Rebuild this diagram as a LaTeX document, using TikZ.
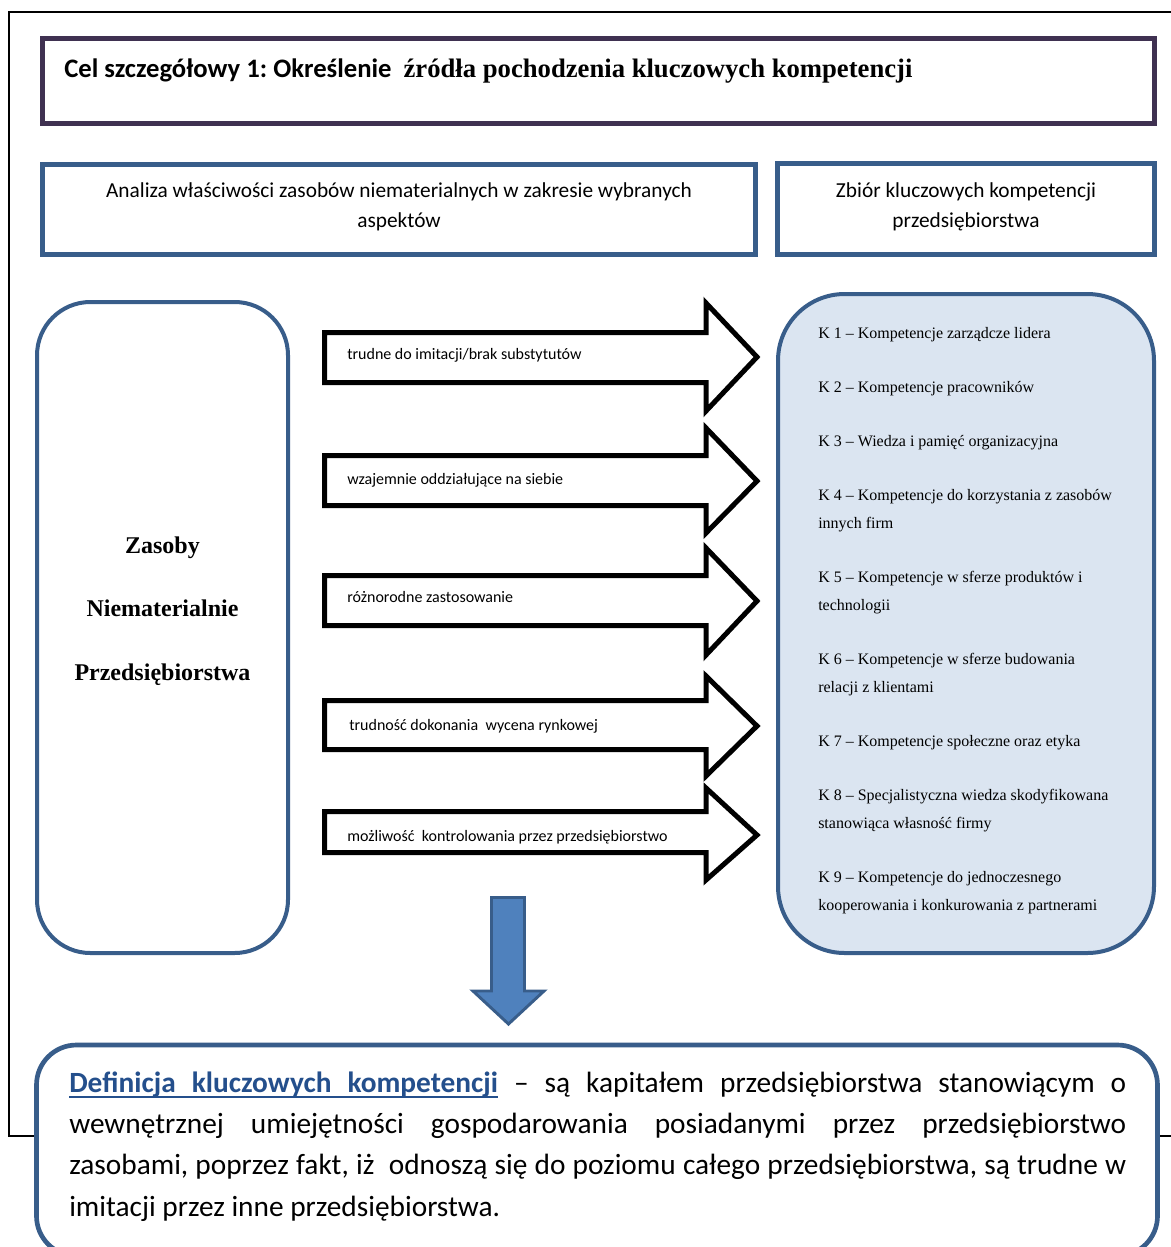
\documentclass[tikz,border=0pt]{standalone}
\usepackage{fontspec}
\setmainfont{Carlito}
\newfontfamily\tnr{Liberation Serif}
\frenchspacing
\definecolor{titleframe}{RGB}{63,49,81}
\definecolor{boxblue}{RGB}{56,93,138}
\definecolor{kfill}{RGB}{219,229,241}
\definecolor{arrowblue}{RGB}{79,129,189}
\definecolor{defblue}{RGB}{36,79,140}
\newcommand\twoline[2]{\vtop{\baselineskip=21pt\hbox{#1}\hbox{#2}}}
\newcommand\ulword[1]{\setbox0\hbox{\textcolor{defblue}{\bfseries #1}}\rlap{\textcolor{defblue}{\vrule height -3.0pt depth 4.2pt width \wd0}}\box0}
\newcommand\ulgap{\textcolor{defblue}{\leaders\hrule height -3.0pt depth 4.2pt\hskip 0.226em plus 1fil}}
\newcommand\pgap{\hskip 0.226em plus 1fil}
\newcommand\blockarr[5]{\draw[blockarrow] (324.5,#1) -- (706,#1) -- (706,#3) -- (757,#5) -- (706,#4) -- (706,#2) -- (324.5,#2) -- cycle;}
\begin{document}
\begin{tikzpicture}[x=0.75pt,y=-0.75pt,
  framebox/.style={draw=titleframe, line width=3.75pt},
  bluebox/.style={draw=boxblue, line width=3.75pt},
  roundbox/.style={draw=boxblue, line width=3pt},
  blockarrow/.style={draw=black, fill=white, line width=3.75pt, line join=miter, miter limit=10},
  downarrow/.style={draw=boxblue, fill=arrowblue, line width=2.2pt, line join=miter},
  arrowtext/.style={anchor=base west, inner sep=0pt, font=\fontsize{12}{14}\selectfont},
  headtext/.style={anchor=base, inner sep=0pt, font=\fontsize{16}{19}\selectfont},
  ktext/.style={anchor=base west, inner sep=0pt, font=\tnr\fontsize{12}{21}\selectfont},
  zastext/.style={anchor=base, inner sep=0pt, font=\tnr\bfseries\fontsize{18}{22}\selectfont}]
\clip (0,0) rectangle (1171,1247);
\fill[white] (0,0) rectangle (1171,1247);
% outer frame
\draw[black, line width=1.5pt] (1171,12) -- (9,12) -- (9,1136) -- (1171,1136);
% title box
\draw[framebox] (42.5,38.5) rectangle (1154.5,123.5);
\node[anchor=base west, inner sep=0pt, font=\fontsize{20}{24}\selectfont\bfseries] (title) at (64,77)
  {Cel szczegółowy 1: Określenie\hspace{0.45em}{\tnr źródła pochodzenia kluczowych kompetencji}};
% heading boxes
\draw[bluebox] (42.5,164.5) rectangle (755.5,254.5);
\draw[bluebox] (777.5,163.5) rectangle (1154.5,254.5);
\node[headtext] (an1) at (399,197) {Analiza właściwości zasobów niematerialnych w zakresie wybranych};
\node[headtext] (an2) at (399,227) {aspektów};
\node[headtext] (zb1) at (966,197) {Zbiór kluczowych kompetencji};
\node[headtext] (zb2) at (966,227) {przedsiębiorstwa};
% left rounded box
\draw[roundbox, fill=white, rounded corners=40pt] (37,302) rectangle (288,953);
\node[zastext] (zas1) at (162.5,553) {Zasoby};
\node[zastext] (zas2) at (162.5,616) {Niematerialnie};
\node[zastext] (zas3) at (162.5,680) {Przedsiębiorstwa};
% right rounded box
\draw[roundbox, fill=kfill, rounded corners=50pt] (778,294) rectangle (1154,953);
\node[ktext] (k1) at (818,338) {K 1 – Kompetencje zarządcze lidera};
\node[ktext] (k2) at (818,392) {K 2 – Kompetencje pracowników};
\node[ktext] (k3) at (818,446) {K 3 – Wiedza i pamięć organizacyjna};
\node[ktext] (k4) at (818,500) {\twoline{K 4 – Kompetencje do korzystania z zasobów}{innych firm}};
\node[ktext] (k5) at (818,582) {\twoline{K 5 – Kompetencje w sferze produktów i}{technologii}};
\node[ktext] (k6) at (818,664) {\twoline{K 6 – Kompetencje w sferze budowania}{relacji z klientami}};
\node[ktext] (k7) at (818,746) {K 7 – Kompetencje społeczne oraz etyka};
\node[ktext] (k8) at (818,800) {\twoline{K 8 – Specjalistyczna wiedza skodyfikowana}{stanowiąca własność firmy}};
\node[ktext] (k9) at (818,882) {\twoline{K 9 – Kompetencje do jednoczesnego}{kooperowania i konkurowania z partnerami}};
% block arrows
\blockarr{332.5}{382.5}{303}{411}{357}
\blockarr{455.5}{505.5}{428}{533}{481}
\blockarr{575.5}{625.5}{548}{655}{601}
\blockarr{700.5}{749.5}{676}{776}{726}
\blockarr{811.5}{852.5}{788}{880}{835}
\node[arrowtext] (a1) at (347,359) {trudne do imitacji/brak substytutów};
\node[arrowtext] (a2) at (347,484) {wzajemnie oddziałujące na siebie};
\node[arrowtext] (a3) at (347,602) {różnorodne zastosowanie};
\node[arrowtext] (a4) at (349,730) {trudność dokonania\ \ wycena rynkowej};
\node[arrowtext] (a5) at (347,841) {możliwość\ \ kontrolowania przez przedsiębiorstwo};
% down arrow
\draw[downarrow] (491.5,897.5) -- (524.5,897.5) -- (524.5,991) -- (544,991) -- (508.5,1024) -- (473,991) -- (491.5,991) -- cycle;
% definition box
\draw[roundbox, line width=3.5pt, fill=white, rounded corners=30pt] (36.5,1045) rectangle (1157.5,1256);
\node[anchor=base west, inner sep=0pt, font=\fontsize{22}{31}\selectfont] (def) at (69,1092) {\vtop{\baselineskip=31pt
\hbox to 792.75pt{\ulword{Definicja}\ulgap\ulword{kluczowych}\ulgap\ulword{kompetencji}\pgap–\pgap są\pgap kapitałem\pgap przedsiębiorstwa\pgap stanowiącym\pgap o}
\hbox to 792.75pt{wewnętrznej\pgap umiejętności\pgap gospodarowania\pgap posiadanymi\pgap przez\pgap przedsiębiorstwo}
\hbox to 792.75pt{zasobami, poprzez fakt, iż\ \ odnoszą się do poziomu całego przedsiębiorstwa, są trudne w}
\hbox{imitacji przez inne przedsiębiorstwa.}}};
\end{tikzpicture}
\end{document}
